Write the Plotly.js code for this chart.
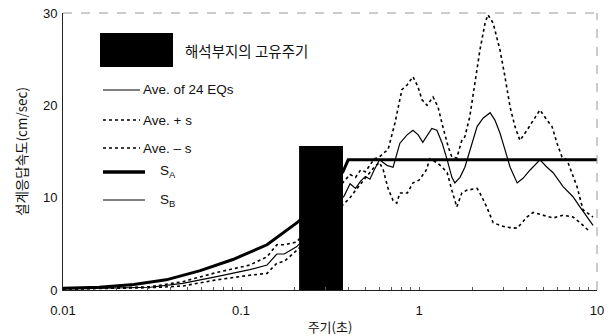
<!DOCTYPE html>
<html>
<head>
<meta charset="utf-8">
<script src="https://cdn.plot.ly/plotly-3.0.1.min.js"></script>
<style>html,body{margin:0;padding:0;background:#fff;}#chart{width:615px;height:336px;}</style>
</head>
<body>
<div id="chart"></div>
<script>
// ---- data (period in sec, velocity in cm/sec) ----
const tickVals = [0.01, 0.02, 0.03, 0.04, 0.05, 0.06, 0.07, 0.08, 0.09,
                  0.1, 0.2, 0.3, 0.4, 0.5, 0.6, 0.7, 0.8, 0.9,
                  1, 2, 3, 4, 5, 6, 7, 8, 9, 10];
const tickText = ["0.01", "", "", "", "", "", "", "", "",
                  "0.1", "", "", "", "", "", "", "", "",
                  "1", "", "", "", "", "", "", "", "", "10"];

const saT = [0.01, 0.016, 0.025, 0.038, 0.059, 0.09, 0.14, 0.21, 0.3, 0.374, 0.40, 1, 10];
const saV = [0.2, 0.3, 0.6, 1.1, 2.1, 3.3, 4.9, 7.4, 10.5, 12.8, 14.1, 14.1, 14.1];

const sbT = [0.01, 0.016, 0.025, 0.038, 0.059, 0.09, 0.14, 0.21, 0.3, 0.374, 0.40, 1, 10];
const sbV = [0.2, 0.3, 0.6, 1.1, 2.1, 3.3, 4.9, 7.4, 10.5, 12.8, 14.1, 14.1, 14.1];

const aveT = [0.01, 0.013, 0.031, 0.047, 0.073, 0.112, 0.14, 0.159, 0.175, 0.206, 0.38, 0.41, 0.44, 0.47, 0.5, 0.53, 0.56, 0.6, 0.661, 0.715, 0.781, 0.857, 0.925, 0.99, 1.05, 1.18, 1.26, 1.35, 1.44, 1.53, 1.59, 1.70, 1.81, 1.93, 2.12, 2.29, 2.51, 2.67, 2.85, 3.04, 3.25, 3.56, 3.84, 4.21, 4.78, 5.24, 5.67, 6.45, 7.33, 8.02, 8.79, 9.5];
const aveV = [0.15, 0.15, 0.3, 0.72, 1.45, 2.2, 2.7, 3.9, 3.9, 4.7, 10.2, 11.5, 11.0, 11.8, 12.3, 12.0, 13.0, 14.1, 13.5, 13.3, 15.9, 16.8, 17.3, 16.8, 16.0, 17.5, 17.3, 15.9, 14.1, 12.2, 11.6, 12.2, 13.3, 15.2, 17.7, 18.6, 19.2, 18.4, 17.0, 15.2, 13.3, 11.6, 12.1, 13.0, 14.1, 13.3, 12.7, 11.2, 10.1, 9.0, 7.9, 7.0];

const plusT = [0.01, 0.013, 0.031, 0.047, 0.073, 0.112, 0.14, 0.159, 0.175, 0.206, 0.38, 0.41, 0.44, 0.47, 0.5, 0.53, 0.56, 0.6, 0.628, 0.67, 0.733, 0.802, 0.857, 0.925, 0.987, 1.04, 1.11, 1.20, 1.28, 1.36, 1.46, 1.53, 1.63, 1.74, 1.81, 1.93, 2.06, 2.20, 2.35, 2.44, 2.61, 2.85, 3.04, 3.25, 3.46, 3.69, 4.04, 4.37, 4.78, 5.24, 5.59, 5.96, 6.36, 6.78, 7.72, 8.34, 9.5];
const plusV = [0.15, 0.15, 0.35, 0.9, 1.9, 2.7, 3.6, 4.9, 4.9, 5.2, 11.8, 12.5, 12.2, 13.0, 12.8, 13.5, 14.2, 14.4, 14.8, 15.2, 18.1, 21.7, 22.2, 23.1, 22.0, 20.6, 20.0, 20.9, 19.8, 17.7, 15.5, 14.4, 14.3, 16.2, 16.6, 18.8, 22.4, 26.0, 28.9, 29.8, 28.9, 26.0, 23.1, 19.8, 17.7, 16.2, 17.3, 18.4, 19.5, 18.4, 17.7, 15.9, 14.4, 14.1, 11.2, 8.7, 7.9];

const minusT = [0.01, 0.013, 0.031, 0.047, 0.073, 0.112, 0.14, 0.159, 0.175, 0.206, 0.38, 0.41, 0.44, 0.47, 0.5, 0.53, 0.56, 0.6, 0.63, 0.67, 0.715, 0.75, 0.78, 0.86, 0.925, 1.0, 1.1, 1.15, 1.26, 1.35, 1.44, 1.53, 1.63, 1.74, 1.85, 2.12, 2.2, 2.4, 2.61, 2.85, 3.1, 3.56, 4.04, 4.37, 5.0, 5.67, 6.45, 7.33, 8.02, 9.14];
const minusV = [0.1, 0.12, 0.25, 0.43, 1.1, 1.6, 1.8, 2.9, 3.1, 4.3, 9.3, 10.0, 10.8, 11.5, 12.2, 12.8, 13.3, 13.8, 13.0, 11.0, 9.7, 9.4, 10.5, 10.5, 11.6, 11.9, 13.0, 14.2, 13.8, 13.3, 12.7, 10.8, 9.0, 10.5, 10.8, 11.0, 10.5, 9.0, 7.3, 7.0, 6.8, 6.7, 7.9, 8.4, 8.1, 7.8, 8.1, 7.9, 7.3, 6.3];

// natural period band of the analysis site
const bandT = [0.212, 0.212, 0.374, 0.374, 0.212];
const bandV = [0, 15.6, 15.6, 0, 0];

const legendLabels = ["해석부지의 고유주기", "Ave. of 24 EQs", "Ave. + s", "Ave. – s", "S<sub>A</sub>", "S<sub>B</sub>"];

// ---- traces ----
const latin = "Liberation Sans, Arial, sans-serif";
const kr = "Noto Sans CJK KR, sans-serif";
const traces = [
  {x: sbT, y: sbV, mode: "lines", line: {color: "#000", width: 1}, name: "SB"},
  {x: minusT, y: minusV, mode: "lines", line: {color: "#000", width: 1.6, dash: "3px,3px"}, name: "Ave. - s"},
  {x: plusT, y: plusV, mode: "lines", line: {color: "#000", width: 1.6, dash: "3px,3px"}, name: "Ave. + s"},
  {x: aveT, y: aveV, mode: "lines", line: {color: "#000", width: 1.2}, name: "Ave. of 24 EQs"},
  {x: saT, y: saV, mode: "lines", line: {color: "#000", width: 3}, name: "SA"},
  {x: bandT, y: bandV, mode: "lines", fill: "toself", fillcolor: "#000", line: {color: "#000", width: 0}, name: "band"}
];

// ---- manual legend ----
const L = 63, W = 534, B = 290, H = 277;
const px = v => (v - L) / W, py = v => (B - v) / H;
const shapes = [
  {type: "rect", xref: "paper", yref: "paper", x0: px(100), x1: px(173), y0: py(67), y1: py(33), fillcolor: "#000", line: {width: 0}},
  {type: "line", xref: "paper", yref: "paper", x0: px(103), x1: px(140), y0: py(90), y1: py(90), line: {color: "#000", width: 1}},
  {type: "line", xref: "paper", yref: "paper", x0: px(103), x1: px(140), y0: py(120), y1: py(120), line: {color: "#000", width: 1.6, dash: "3px,3px"}},
  {type: "line", xref: "paper", yref: "paper", x0: px(103), x1: px(140), y0: py(148), y1: py(148), line: {color: "#000", width: 1.6, dash: "3px,3px"}},
  {type: "line", xref: "paper", yref: "paper", x0: px(103), x1: px(145), y0: py(172), y1: py(172), line: {color: "#000", width: 3.5}},
  {type: "line", xref: "paper", yref: "paper", x0: px(103), x1: px(145), y0: py(200), y1: py(200), line: {color: "#000", width: 1}},
  // faint top and right frame
  {type: "line", xref: "paper", yref: "paper", x0: 0, x1: 1, y0: 1, y1: 1, line: {color: "#999", width: 1, dash: "dash"}},
  {type: "line", xref: "paper", yref: "paper", x0: 1, x1: 1, y0: 0, y1: 1, line: {color: "#999", width: 1, dash: "dash"}}
];
const legY = [50, 90, 120, 148, 172, 200];
const legX = [183, 141, 141, 141, 158, 158];
const annotations = legendLabels.map((t, i) => ({
  text: t, xref: "paper", yref: "paper", x: px(legX[i]), y: py(legY[i]),
  xanchor: "left", yanchor: "middle", showarrow: false,
  font: {family: i === 0 ? kr : latin, size: i === 0 ? 14.5 : 13.5, color: "#111"}
}));

const layout = {
  width: 615, height: 336,
  margin: {l: 63, r: 18, t: 13, b: 46},
  paper_bgcolor: "#fff", plot_bgcolor: "#fff",
  showlegend: false,
  xaxis: {
    type: "log", range: [-2, 1],
    tickmode: "array", tickvals: tickVals, ticktext: tickText,
    showgrid: false, zeroline: false,
    showline: true, linecolor: "#222", linewidth: 1,
    ticks: "inside", ticklen: 3, tickcolor: "#555",
    ticklabelstandoff: 8,
    tickfont: {family: latin, size: 13, color: "#111"},
    title: {text: "주기(초)", font: {family: kr, size: 13, color: "#111"}, standoff: 7}
  },
  yaxis: {
    range: [0, 30], dtick: 10,
    showgrid: false, zeroline: false,
    showline: true, linecolor: "#222", linewidth: 1,
    ticks: "",
    ticklabelstandoff: 2,
    tickfont: {family: latin, size: 13, color: "#111"},
    title: {text: "설계응답속도(cm/sec)", font: {family: kr, size: 13.5, color: "#111"}, standoff: 12}
  },
  shapes: shapes,
  annotations: annotations
};

Plotly.newPlot("chart", traces, layout, {staticPlot: true, displayModeBar: false});
</script>
</body>
</html>
